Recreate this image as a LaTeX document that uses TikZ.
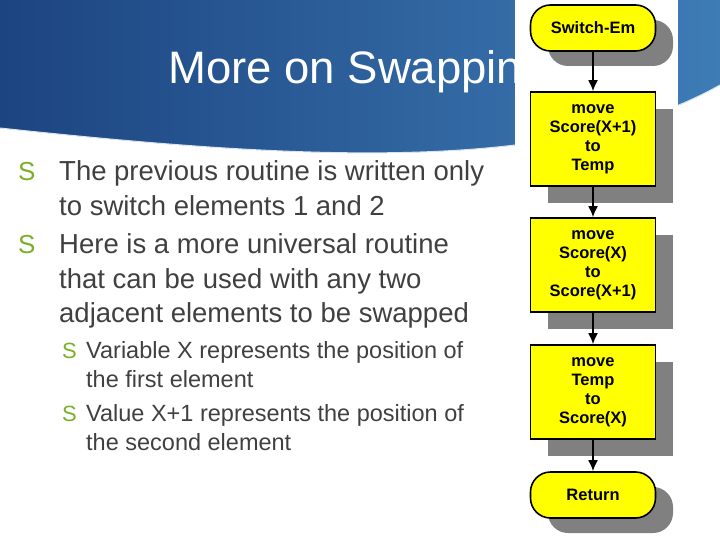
\documentclass[tikz,border=0pt]{standalone}
\usepackage{fontspec}
\setmainfont{Liberation Sans}
\usetikzlibrary{positioning,shadows,calc,arrows.meta}
\definecolor{bannerdark}{RGB}{28,68,128}
\definecolor{bannerlight}{RGB}{62,124,182}
\definecolor{bodygrey}{RGB}{64,64,64}
\definecolor{bulletgreen}{RGB}{122,176,40}
\definecolor{flowyellow}{RGB}{255,255,0}
\definecolor{shadowgrey}{RGB}{128,128,128}

\begin{document}
\begin{tikzpicture}[
    x=1pt, y=-1pt,
    stepbox/.style={rectangle, draw=black, fill=flowyellow, line width=1.6pt, minimum width=125pt, minimum height=94pt, align=center, font=\fontsize{16.5}{19}\selectfont\bfseries},
    terminal/.style={rectangle, rounded corners=20pt, draw=black, fill=flowyellow, line width=1.6pt, minimum width=125pt, minimum height=46pt, align=center, font=\fontsize{16.5}{19}\selectfont\bfseries},
    shade/.style={fill=shadowgrey},
    body/.style={anchor=base west, text=bodygrey, font=\fontsize{27.5}{30}\selectfont, inner sep=0pt},
    sub/.style={anchor=base west, text=bodygrey, font=\fontsize{23.5}{26}\selectfont, inner sep=0pt},
    arrow/.style={-{Latex[length=11pt,width=10pt]}, line width=1.8pt}
]
    \useasboundingbox (0,0) rectangle (720,540);
    % banner
    \shade[left color=bannerdark, right color=bannerlight]
        (0,0) -- (720,0) -- (720,85) .. controls (560,175) and (300,160) .. (0,128) -- cycle;
    \draw[white!80!bannerlight, line width=1pt] (720,85) .. controls (560,175) and (300,160) .. (0,128);
    \node[anchor=base west, text=white, font=\fontsize{45.5}{50}\selectfont, inner sep=0pt] (title) at (168,84) {More on Swapping};

    % text
    \node[body] (l1) at (59,181) {The previous routine is written only};
    \node[body] (l2) at (59,215) {to switch elements 1 and 2};
    \node[body] (l3) at (59,254) {Here is a more universal routine};
    \node[body] (l4) at (59,288) {that can be used with any two};
    \node[body] (l5) at (59,322) {adjacent elements to be swapped};
    \node[sub] (s1) at (86,358) {Variable X represents the position of};
    \node[sub] (s2) at (86,387) {the first element};
    \node[sub] (s3) at (86,421) {Value X+1 represents the position of};
    \node[sub] (s4) at (86,450) {the second element};
    \foreach \yy in {181,254}
        \node[anchor=base west, text=bulletgreen, font=\fontsize{26}{28}\selectfont, inner sep=0pt] at (18,\yy) {S};
    \foreach \yy in {358,421}
        \node[anchor=base west, text=bulletgreen, font=\fontsize{22}{24}\selectfont, inner sep=0pt] at (62,\yy) {S};

    % flowchart panel
    \fill[white] (515,0) rectangle (678,540);
    \fill[shade, rounded corners=20pt] (548,20) rectangle (673,66);
    \fill[shade] (548,109) rectangle (673,203);
    \fill[shade] (548,235) rectangle (673,329);
    \fill[shade] (548,362) rectangle (673,456);
    \fill[shade, rounded corners=20pt] (548,487) rectangle (673,533);
    \node[terminal] (start) at (593,28) {Switch-Em};
    \node[stepbox] (toTemp) at (593,139) {move\\Score(X+1)\\to\\Temp};
    \node[stepbox] (toNext) at (593,265) {move\\Score(X)\\to\\Score(X+1)};
    \node[stepbox] (toCur) at (593,392) {move\\Temp\\to\\Score(X)};
    \node[terminal] (ret) at (593,495) {Return};

    \draw[arrow] (start) -- (toTemp);
    \draw[arrow] (toTemp) -- (toNext);
    \draw[arrow] (toNext) -- (toCur);
    \draw[arrow] (toCur) -- (ret);
\end{tikzpicture}
\end{document}
